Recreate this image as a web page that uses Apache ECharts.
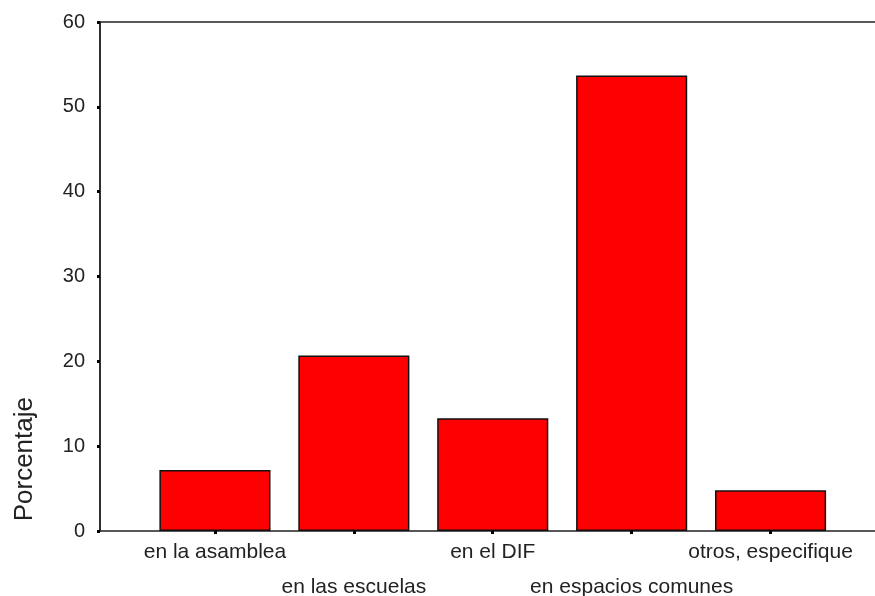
<!DOCTYPE html>
<html>
<head>
<meta charset="utf-8">
<script src="https://cdn.jsdelivr.net/npm/echarts@6/dist/echarts.min.js"></script>
<style>
html,body{margin:0;padding:0;background:#fff;}
#chart{width:875px;height:596px;}
</style>
</head>
<body>
<div id="chart"></div>
<script>
var categories = ['en la asamblea', 'en las escuelas', 'en el DIF', 'en espacios comunes', 'otros, especifique'];
var values = [7.2, 20.7, 13.3, 53.7, 4.8];
var yTicks = [0, 10, 20, 30, 40, 50, 60];
var yTitle = 'Porcentaje';

var chart = echarts.init(document.getElementById('chart'));
var fontFam = '"Liberation Sans", Arial, sans-serif';
chart.setOption({
  animation: false,
  backgroundColor: '#ffffff',
  grid: [
    {left: 145.5, right: 35, top: 22, bottom: 65, containLabel: false, outerBoundsMode: 'none'},
    {left: 100, right: -10, top: 22, bottom: 65, containLabel: false, outerBoundsMode: 'none', show: true, borderColor: '#222', borderWidth: 1.5, backgroundColor: 'transparent', z: 0}
  ],
  xAxis: [
    {
      type: 'category', gridIndex: 0, data: categories,
      axisLine: {show: false},
      axisTick: {show: true, alignWithLabel: true, length: 3, lineStyle: {color: '#000', width: 3}},
      axisLabel: {
        interval: 0, color: '#222', fontSize: 21, fontFamily: fontFam,
        margin: 4, lineHeight: 35,
        formatter: function (v, i) { return i % 2 ? '\n' + v : v; }
      }
    },
    {type: 'value', gridIndex: 1, show: false, min: 0, max: 1}
  ],
  yAxis: [
    {
      type: 'value', gridIndex: 0, min: yTicks[0], max: yTicks[yTicks.length - 1], interval: 10,
      offset: 45.5,
      axisLine: {show: true, lineStyle: {color: '#222', width: 1.5}},
      axisTick: {show: true, length: 3, lineStyle: {color: '#000', width: 3}},
      splitLine: {show: false},
      axisLabel: {color: '#222', fontSize: 20, fontFamily: fontFam, margin: 15}
    },
    {type: 'value', gridIndex: 1, show: false, min: 0, max: 1}
  ],
  graphic: [
    {
      type: 'text', left: 12, top: 397, rotation: Math.PI / 2,
      style: {text: yTitle, fill: '#222', font: '26px ' + fontFam}
    }
  ],
  series: [{
    type: 'bar', xAxisIndex: 0, yAxisIndex: 0,
    data: values, barCategoryGap: '20%',
    itemStyle: {color: '#ff0000', borderColor: '#111', borderWidth: 1.5}
  }]
});
</script>
</body>
</html>
